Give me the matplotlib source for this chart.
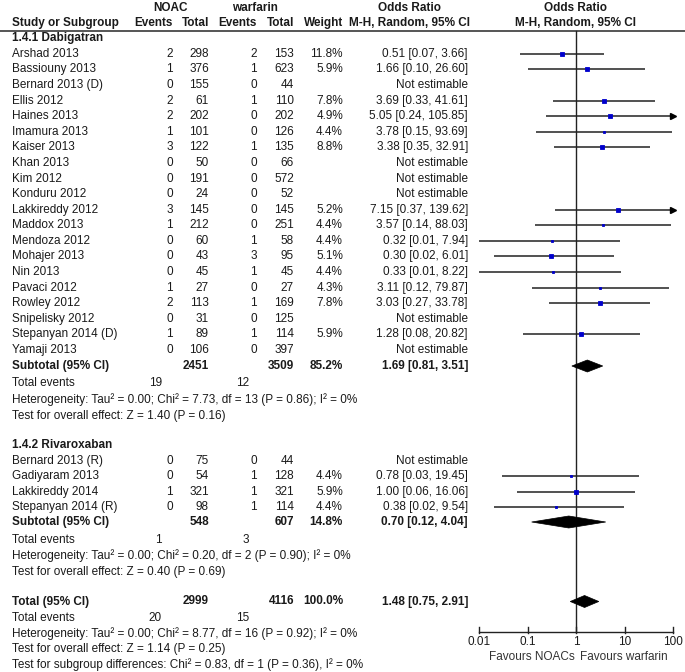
import matplotlib
matplotlib.use("Agg")
import matplotlib.pyplot as plt
from matplotlib.patches import Polygon
import numpy as np

plt.rcParams['font.family'] = ['Liberation Sans', 'DejaVu Sans']

# ---------------- data ----------------
studies_d = ["Arshad 2013", "Bassiouny 2013", "Bernard 2013 (D)", "Ellis 2012", "Haines 2013",
             "Imamura 2013", "Kaiser 2013", "Khan 2013", "Kim 2012", "Konduru 2012",
             "Lakkireddy 2012", "Maddox 2013", "Mendoza 2012", "Mohajer 2013", "Nin 2013",
             "Pavaci 2012", "Rowley 2012", "Snipelisky 2012", "Stepanyan 2014 (D)", "Yamaji 2013"]
noac_ev_d = [2, 1, 0, 2, 2, 1, 3, 0, 0, 0, 3, 1, 0, 0, 0, 1, 2, 0, 1, 0]
noac_tot_d = [298, 376, 155, 61, 202, 101, 122, 50, 191, 24, 145, 212, 60, 43, 45, 27, 113, 31, 89, 106]
warf_ev_d = [2, 1, 0, 1, 0, 0, 1, 0, 0, 0, 0, 0, 1, 3, 1, 0, 1, 0, 1, 0]
warf_tot_d = [153, 623, 44, 110, 202, 126, 135, 66, 572, 52, 145, 251, 58, 95, 45, 27, 169, 125, 114, 397]
weight_d = [11.8, 5.9, None, 7.8, 4.9, 4.4, 8.8, None, None, None, 5.2, 4.4, 4.4, 5.1, 4.4, 4.3, 7.8, None, 5.9, None]
or_d = [0.51, 1.66, None, 3.69, 5.05, 3.78, 3.38, None, None, None, 7.15, 3.57, 0.32, 0.30, 0.33, 3.11, 3.03, None, 1.28, None]
lo_d = [0.07, 0.10, None, 0.33, 0.24, 0.15, 0.35, None, None, None, 0.37, 0.14, 0.01, 0.02, 0.01, 0.12, 0.27, None, 0.08, None]
hi_d = [3.66, 26.60, None, 41.61, 105.85, 93.69, 32.91, None, None, None, 139.62, 88.03, 7.94, 6.01, 8.22, 79.87, 33.78, None, 20.82, None]

studies_r = ["Bernard 2013 (R)", "Gadiyaram 2013", "Lakkireddy 2014", "Stepanyan 2014 (R)"]
noac_ev_r = [0, 0, 1, 0]
noac_tot_r = [75, 54, 321, 98]
warf_ev_r = [0, 1, 1, 1]
warf_tot_r = [44, 128, 321, 114]
weight_r = [None, 4.4, 5.9, 4.4]
or_r = [None, 0.78, 1.00, 0.38]
lo_r = [None, 0.03, 0.06, 0.02]
hi_r = [None, 19.45, 16.06, 9.54]

# subtotals / total: (label, noac total, warf total, weight, or, lo, hi)
sub_d = ("Subtotal (95% CI)", 2451, 3509, "85.2%", 1.69, 0.81, 3.51)
sub_r = ("Subtotal (95% CI)", 548, 607, "14.8%", 0.70, 0.12, 4.04)
total = ("Total (95% CI)", 2999, 4116, "100.0%", 1.48, 0.75, 2.91)
tot_events_d = (19, 12)
tot_events_r = (1, 3)
tot_events_all = (20, 15)
het_d = "Heterogeneity: Tau\u00b2 = 0.00; Chi\u00b2 = 7.73, df = 13 (P = 0.86); I\u00b2 = 0%"
eff_d = "Test for overall effect: Z = 1.40 (P = 0.16)"
het_r = "Heterogeneity: Tau\u00b2 = 0.00; Chi\u00b2 = 0.20, df = 2 (P = 0.90); I\u00b2 = 0%"
eff_r = "Test for overall effect: Z = 0.40 (P = 0.69)"
het_all = "Heterogeneity: Tau\u00b2 = 0.00; Chi\u00b2 = 8.77, df = 16 (P = 0.92); I\u00b2 = 0%"
eff_all = "Test for overall effect: Z = 1.14 (P = 0.25)"
sub_diff = "Test for subgroup differences: Chi\u00b2 = 0.83, df = 1 (P = 0.36), I\u00b2 = 0%"

tick_vals = [0.01, 0.1, 1, 10, 100]
tick_labels = ["0.01", "0.1", "1", "10", "100"]

# ---------------- layout ----------------
W, H = 685, 672
fig = plt.figure(figsize=(W / 100, H / 100), dpi=100)
ax = fig.add_axes([0, 0, 1, 1])
ax.set_xlim(0, W)
ax.set_ylim(H, 0)
ax.axis('off')

X0, X1 = 479.3, 673.3
fa = fig.add_axes([X0 / W, 0, (X1 - X0) / W, 1])
fa.set_xscale('log')
fa.set_xlim(0.01, 100)
fa.set_ylim(H, 0)
fa.axis('off')

FS = 8.5
TXT = '#1a1a1a'
x_name = 12
x_ne, x_nt, x_we, x_wt, x_w, x_or = 173, 209, 257, 294, 343, 468
x_te_n, x_te_w = 162, 249


def t(x, y, s, ha='left', bold=False):
    ax.text(x, y, s, ha=ha, va='center', fontsize=FS, color=TXT,
            fontweight='bold' if bold else 'normal')


# headers
t(171, 8, "NOAC", 'center', True)
t(255, 8, "warfarin", 'center', True)
t(410, 8, "Odds Ratio", 'center', True)
t(576, 8, "Odds Ratio", 'center', True)
t(x_name, 23, "Study or Subgroup", bold=True)
t(x_ne, 23, "Events", 'right', True)
t(x_nt, 23, "Total", 'right', True)
t(x_we, 23, "Events", 'right', True)
t(x_wt, 23, "Total", 'right', True)
t(x_w, 23, "Weight", 'right', True)
t(410, 23, "M-H, Random, 95% CI", 'center', True)
t(576, 23, "M-H, Random, 95% CI", 'center', True)
ax.plot([0, W], [30.5, 30.5], color='#555555', lw=1.4, solid_capstyle='butt')


def study_rows(ys, names, ne, nt, we, wt, wts, ors, los, his):
    for y, n, a, b, c, d, w, o, l, h in zip(ys, names, ne, nt, we, wt, wts, ors, los, his):
        t(x_name, y, n)
        t(x_ne, y, str(a), 'right')
        t(x_nt, y, str(b), 'right')
        t(x_we, y, str(c), 'right')
        t(x_wt, y, str(d), 'right')
        if o is None:
            t(x_or, y, "Not estimable", 'right')
            continue
        t(x_w, y, f"{w:.1f}%", 'right')
        t(x_or, y, f"{o:.2f} [{l:.2f}, {h:.2f}]", 'right')
        hh = min(h, 100)
        fa.plot([l, hh], [y, y], color='#222222', lw=1.1, solid_capstyle='butt', zorder=2)
        if h > 100:
            fa.plot([100], [y], marker='>', color='black', ms=4.5, clip_on=False, zorder=3)
        ms = 3.4 * np.sqrt(w / 11.8)
        fa.plot([o], [y], marker='s', color='#0000cc', ms=ms, mec='#0000cc', mew=0.6, zorder=4)


def diamond(y, o, l, h):
    fa.add_patch(Polygon([(l, y), (o, y - 6), (h, y), (o, y + 6)], closed=True,
                         facecolor='black', edgecolor='black', lw=0.5, zorder=4))


def summary_row(y, s):
    lab, a, b, w, o, l, h = s
    t(x_name, y, lab, bold=True)
    t(x_nt, y, str(a), 'right', True)
    t(x_wt, y, str(b), 'right', True)
    t(x_w, y, w, 'right', True)
    t(x_or, y, f"{o:.2f} [{l:.2f}, {h:.2f}]", 'right', True)
    diamond(y, o, l, h)


# subgroup 1
t(x_name, 38.5, "1.4.1 Dabigatran", bold=True)
ys_d = [53.9 + 15.58 * i for i in range(len(studies_d))]
study_rows(ys_d, studies_d, noac_ev_d, noac_tot_d, warf_ev_d, warf_tot_d, weight_d, or_d, lo_d, hi_d)
summary_row(366, sub_d)
t(x_name, 383.5, "Total events")
t(x_te_n, 383.5, str(tot_events_d[0]), 'right')
t(x_te_w, 383.5, str(tot_events_d[1]), 'right')
t(x_name, 400, het_d)
t(x_name, 416.5, eff_d)

# subgroup 2
t(x_name, 445.5, "1.4.2 Rivaroxaban", bold=True)
ys_r = [461 + 15.4 * i for i in range(len(studies_r))]
study_rows(ys_r, studies_r, noac_ev_r, noac_tot_r, warf_ev_r, warf_tot_r, weight_r, or_r, lo_r, hi_r)
summary_row(522, sub_r)
t(x_name, 540, "Total events")
t(x_te_n, 540, str(tot_events_r[0]), 'right')
t(x_te_w, 540, str(tot_events_r[1]), 'right')
t(x_name, 556, het_r)
t(x_name, 571.5, eff_r)

# total
summary_row(601.5, total)
t(x_name, 618, "Total events")
t(x_te_n, 618, str(tot_events_all[0]), 'right')
t(x_te_w, 618, str(tot_events_all[1]), 'right')
t(x_name, 633.5, het_all)
t(x_name, 649, eff_all)
t(x_name, 664.5, sub_diff)

# forest axis
AXY = 632
fa.plot([1, 1], [30.5, AXY], color='#222222', lw=1.0, zorder=3)
fa.plot([tick_vals[0], tick_vals[-1]], [AXY, AXY], color='#222222', lw=1.0, clip_on=False)
for v, lab in zip(tick_vals, tick_labels):
    fa.plot([v, v], [AXY - 5, AXY + 1], color='#222222', lw=1.0, clip_on=False)
    fa.text(v, 642, lab, ha='center', va='center', fontsize=FS, color=TXT, clip_on=False)
fa.text(0.1 * 10 ** 0.09, 657, "Favours NOACs", ha='center', va='center', fontsize=FS, color='#333333', clip_on=False)
fa.text(10 ** 0.97, 657, "Favours warfarin", ha='center', va='center', fontsize=FS, color='#333333', clip_on=False)

fig.savefig("out.png", dpi=100, facecolor='white')
